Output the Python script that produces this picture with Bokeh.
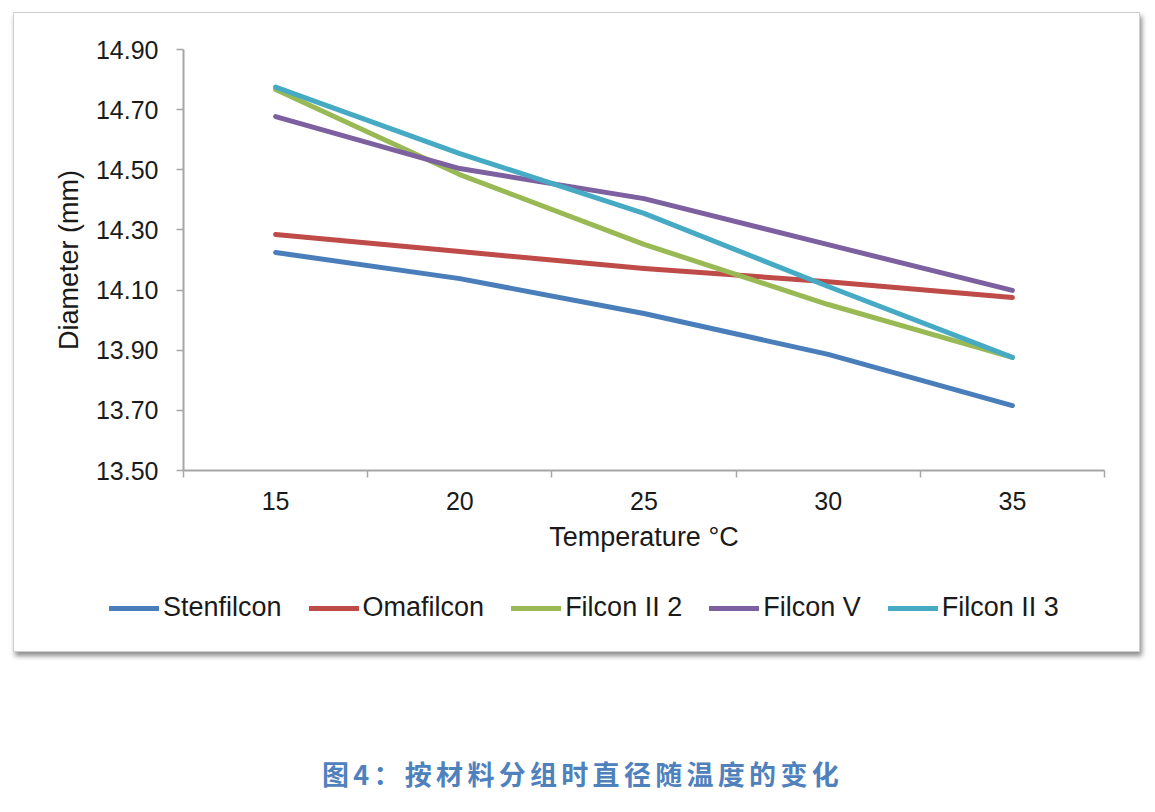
from bokeh.plotting import figure
from bokeh.models import FixedTicker, Legend, LegendItem, Div, NumeralTickFormatter
from bokeh.layouts import column
from bokeh.embed import file_html
from bokeh.resources import INLINE

temperatures = [15, 20, 25, 30, 35]
stenfilcon = [14.225, 14.138, 14.022, 13.886, 13.716]
omafilcon = [14.285, 14.228, 14.172, 14.128, 14.075]
filcon_ii_2 = [14.767, 14.484, 14.252, 14.052, 13.876]
filcon_v = [14.677, 14.504, 14.404, 14.251, 14.099]
filcon_ii_3 = [14.775, 14.554, 14.355, 14.112, 13.876]
y_ticks = [13.5, 13.7, 13.9, 14.1, 14.3, 14.5, 14.7, 14.9]

series = [
    ("Stenfilcon", stenfilcon, "#4A7EBB"),
    ("Omafilcon", omafilcon, "#BE4B48"),
    ("Filcon II 2", filcon_ii_2, "#98B954"),
    ("Filcon V", filcon_v, "#7D60A0"),
    ("Filcon II 3", filcon_ii_3, "#46AAC5"),
]

xs = [i + 0.5 for i in range(len(temperatures))]
FONT = "Liberation Sans"
TXT = "#1a1a1a"
AX = "#a6a6a6"
LW = 5

p = figure(width=1125, height=560, output_backend="svg", toolbar_location=None,
           x_range=(0, len(temperatures)), y_range=(13.5, 14.9),
           min_border_left=169, min_border_right=35, min_border_top=36, min_border_bottom=103)
p.frame_align = False
p.outline_line_color = None
p.xgrid.visible = False
p.ygrid.visible = False

for name, vals, col in series:
    p.line(xs, vals, line_color=col, line_width=LW, line_cap="round", line_join="round")

p.xaxis.ticker = FixedTicker(ticks=xs, minor_ticks=list(range(len(temperatures) + 1)))
p.xaxis.major_label_overrides = {x: str(t) for x, t in zip(xs, temperatures)}
p.xaxis.major_tick_line_color = None
p.xaxis.major_tick_out = 0
p.xaxis.major_tick_in = 0
p.xaxis.minor_tick_out = 7
p.xaxis.minor_tick_in = 0
p.xaxis.minor_tick_line_color = AX
p.xaxis.minor_tick_line_width = 1.5
p.xaxis.major_label_standoff = 14
p.xaxis.axis_label = "Temperature °C"
p.xaxis.axis_label_standoff = 9

p.yaxis.ticker = FixedTicker(ticks=y_ticks, minor_ticks=[])
p.yaxis.formatter = NumeralTickFormatter(format="0.00")
p.yaxis.major_tick_out = 7
p.yaxis.major_tick_in = 0
p.yaxis.major_tick_line_color = AX
p.yaxis.major_tick_line_width = 1.5
p.yaxis.major_label_standoff = 18
p.yaxis.axis_label = "Diameter (mm)"
p.yaxis.axis_label_standoff = 9

for ax in (p.xaxis[0], p.yaxis[0]):
    ax.axis_line_color = AX
    ax.axis_line_width = 2
    ax.major_label_text_font = FONT
    ax.major_label_text_font_size = "25px"
    ax.major_label_text_color = TXT
    ax.axis_label_text_font = FONT
    ax.axis_label_text_font_size = "27px"
    ax.axis_label_text_font_style = "normal"
    ax.axis_label_text_color = TXT

# legend strip (separate figure so the legend is not clipped by the main frame)
p2 = figure(width=1125, height=78, output_backend="svg", toolbar_location=None,
            x_axis_type=None, y_axis_type=None, x_range=(0, 1), y_range=(0, 1),
            min_border_left=0, min_border_right=0, min_border_top=0, min_border_bottom=0)
p2.frame_align = False
p2.outline_line_color = None
p2.xgrid.visible = False
p2.ygrid.visible = False
items = []
for name, vals, col in series:
    # same series, lying outside this strip's visible range: only the legend sample shows
    r = p2.line(xs, vals, line_color=col, line_width=LW, line_cap="round")
    items.append(LegendItem(label=name, renderers=[r]))
legend = Legend(items=items, orientation="horizontal", location=(95, 28),
                glyph_width=50, glyph_height=30, label_standoff=4, spacing=27,
                label_text_font=FONT, label_text_font_size="27px", label_text_color=TXT,
                border_line_color=None, background_fill_alpha=0, margin=0, padding=0)
p2.add_layout(legend, "center")

box = column(p, p2, spacing=0)
box.margin = (12, 0, 0, 13)
box.styles = {"border": "1px solid #cfcfcf", "box-shadow": "2px 4px 5px rgba(0,0,0,0.45)",
              "background": "white"}

caption = Div(text="图4：按材料分组时直径随温度的变化", width=1155,
              styles={"font-family": "Noto Sans CJK SC", "font-size": "27px", "font-weight": "bold",
                      "color": "#4F81BD", "letter-spacing": "4.3px", "text-align": "center",
                      "width": "1155px", "margin-top": "103px"})

layout = column(box, caption)
open("out.html", "w").write(file_html(layout, INLINE))
